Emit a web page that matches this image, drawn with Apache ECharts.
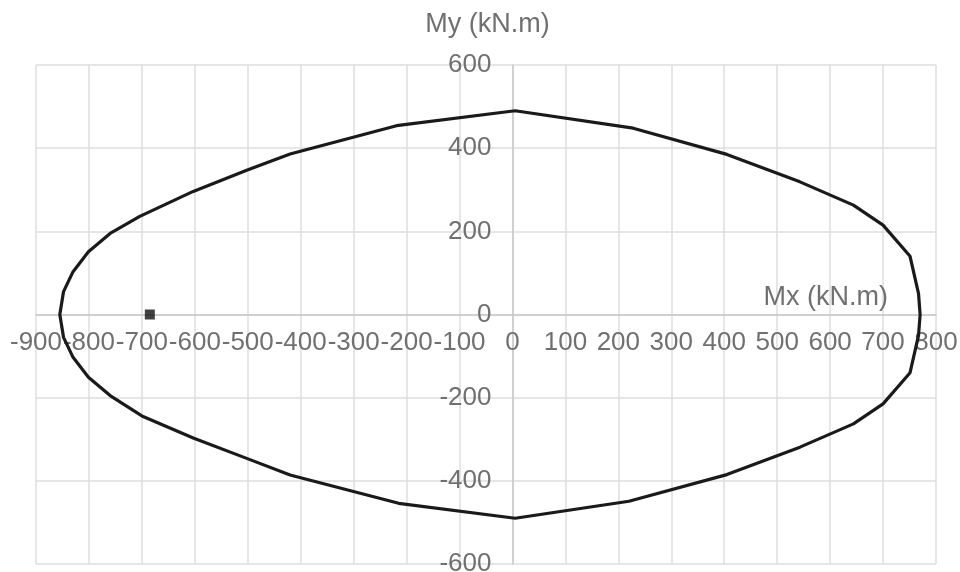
<!DOCTYPE html>
<html>
<head>
<meta charset="utf-8">
<script src="https://cdn.jsdelivr.net/npm/echarts@6/dist/echarts.min.js"></script>
<style>html,body{margin:0;padding:0;background:#fff}#c{width:960px;height:572px}</style>
</head>
<body>
<div id="c"></div>
<script>
// Interaction curve Mx–My (kN.m)
const curveMx = [770, 767, 751, 700, 644, 543, 405, 228, 5, -219, -420, -502, -603, -704, -760, -801, -830, -848, -855,
                 -848, -830, -801, -760, -700, -603, -502, -420, -215, 5, 220, 405, 543, 644, 700, 751, 767, 770];
const curveMy = [0, 50, 140, 215, 263, 319, 385, 448, 490, 454, 386, 347, 296, 236, 195, 151, 103, 55, 0,
                 -55, -103, -151, -195, -244, -297, -346, -386, -454, -490, -449, -385, -319, -263, -215, -140, -50, 0];
const pointMx = [-685];
const pointMy = [0];
const xTicks = {min: -900, max: 800, step: 100};
const yTicks = {min: -600, max: 600, step: 200};
const xName = 'Mx (kN.m)';
const yName = 'My (kN.m)';

const font = '"Liberation Sans", Arial, sans-serif';
const txt = '#707070';
const W = 960, H = 572;
const G = {left: 36, right: 24, top: 65, bottom: 8};
const plotW = W - G.left - G.right, plotH = H - G.top - G.bottom;
// move axes so they cross at the origin (axis lines + labels)
const yAxisOffset = -plotW * (0 - xTicks.min) / (xTicks.max - xTicks.min);
const xAxisOffset = -plotH * (0 - yTicks.min) / (yTicks.max - yTicks.min);

const chart = echarts.init(document.getElementById('c'), null, {renderer: 'canvas'});
chart.setOption({
  animation: false,
  backgroundColor: '#fff',
  grid: Object.assign({containLabel: false, outerBoundsMode: 'none'}, G),
  xAxis: {
    type: 'value', min: xTicks.min, max: xTicks.max, interval: xTicks.step,
    position: 'bottom', offset: xAxisOffset,
    axisLine: {show: true, onZero: false, lineStyle: {color: '#c8c8c8', width: 1.5}},
    axisTick: {show: false},
    axisLabel: {fontSize: 26, color: txt, fontFamily: font, margin: 15},
    splitLine: {show: true, lineStyle: {color: '#dedede', width: 1.5}},
    name: xName, nameLocation: 'end', nameGap: -48,
    nameTextStyle: {fontSize: 27, color: txt, fontFamily: font, align: 'right', verticalAlign: 'bottom', padding: [0, 0, 3, 0]}
  },
  yAxis: {
    type: 'value', min: yTicks.min, max: yTicks.max, interval: yTicks.step,
    position: 'left', offset: yAxisOffset,
    axisLine: {show: true, onZero: false, lineStyle: {color: '#c8c8c8', width: 1.5}},
    axisTick: {show: false},
    axisLabel: {fontSize: 26, color: txt, fontFamily: font, margin: 21},
    splitLine: {show: true, lineStyle: {color: '#dedede', width: 1.5}},
    name: yName, nameLocation: 'end', nameGap: 40,
    nameTextStyle: {fontSize: 27, color: txt, fontFamily: font, align: 'center', verticalAlign: 'middle', padding: [0, 50, 0, 0]}
  },
  series: [
    {
      type: 'line',
      data: curveMx.map((x, i) => [x, curveMy[i]]),
      showSymbol: false, symbol: 'none', smooth: false,
      lineStyle: {color: '#1a1a1a', width: 3.2},
      clip: false, z: 3
    },
    {
      type: 'scatter',
      data: pointMx.map((x, i) => [x, pointMy[i]]),
      symbol: 'rect', symbolSize: 10,
      itemStyle: {color: '#111'}, z: 4
    }
  ]
});
</script>
</body>
</html>
